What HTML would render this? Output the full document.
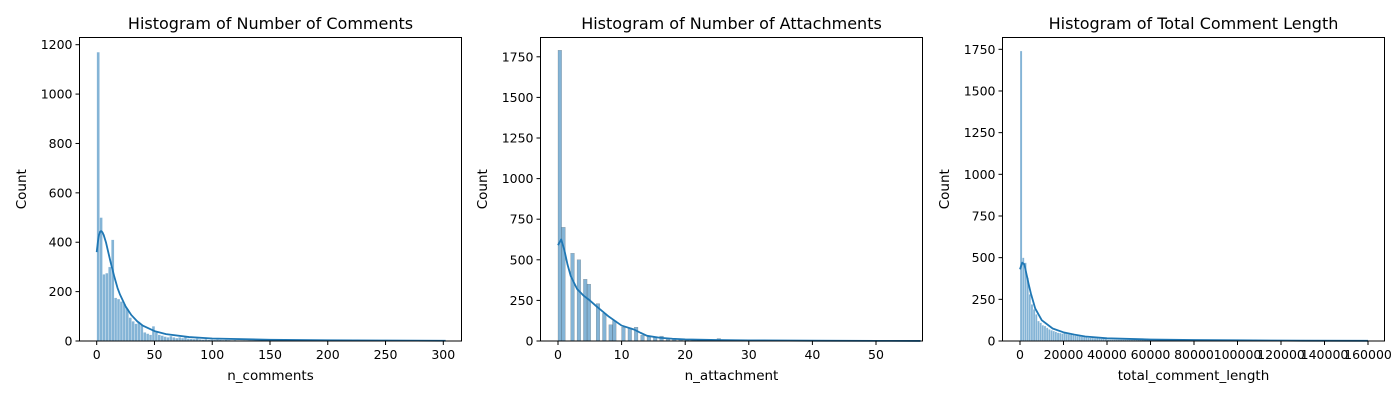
<!DOCTYPE html>
<html><head><meta charset="utf-8"><style>
body{margin:0;background:#fff;}
svg text{font-family:"DejaVu Sans","Liberation Sans",sans-serif;fill:#000;}
</style></head><body>
<svg id="fig" width="1400" height="400" xmlns="http://www.w3.org/2000/svg"></svg>
<script>
// Chart 1: n_comments (bin width 2.52)
const c1Counts = [1170,500,270,275,300,410,175,170,160,150,130,95,80,70,78,65,35,30,25,60,35,25,22,18,15,20,15,12,15,12,16,10,9,8,10,7,6,8,5,6,5,6,5,4,5,4,3,4,3,3,3,2,3,2,2,2,2,3,2,2,2,1,2,1,1,2,1,1,1,1,1,1,1,1,1,1,1,1,1,1,1,1,1,1,1,1,1,1,1,1,1,1,1,1,1,1,1,1,1,1,1,1,1,1,1,1,1,1,1,1,1,1,1,1,1,1,1,1,1,1];
const c1KdeX = [0,1,2,3,4,5,6,8,10,12,15,18,20,25,30,35,40,50,60,80,100,150,200,250,302];
const c1KdeY = [360,400,430,443,445,440,430,400,360,320,265,215,190,140,105,80,62,40,28,16,10,5,3,2,1];
// Chart 2: n_attachment (x, count)
const c2X = [0,0.57,2,3,4,4.57,6,7,8,8.57,10,11,12,13,14,15,16,17,18,19,20,21,22,24,25,27,30,33,36,40,45,50,56];
const c2Counts = [1790,700,540,500,380,350,230,170,100,125,85,80,85,35,25,25,30,10,10,8,10,8,6,5,15,4,3,3,2,2,2,1,1];
const c2KdeX = [0,0.5,1,1.5,2,3,4,5,6,8,10,12,13,14,16,18,20,25,30,40,50,57];
const c2KdeY = [590,625,560,470,400,320,280,250,215,150,95,70,50,32,20,14,10,6,4,2,1,0.5];
// Chart 3: total_comment_length (bin width 1000)
const c3Counts = [1740,500,470,380,280,220,190,160,120,110,95,90,80,70,65,60,55,50,48,45,55,42,40,38,35,32,30,28,26,24,22,20,19,18,17,16,15,14,13,12];
const c3Tail = 4;
const c3KdeX = [0,1000,2000,3000,4000,5000,7000,10000,15000,20000,25000,30000,40000,60000,80000,100000,130000,160000];
const c3KdeY = [430,470,460,400,340,285,195,125,75,52,38,27,16,9,6,4,2,1];

const yTicks1 = [0,200,400,600,800,1000,1200];
const yTicks23 = [0,250,500,750,1000,1250,1500,1750];
const xTicks1 = [0,50,100,150,200,250,300];
const xTicks2 = [0,10,20,30,40,50];
const xTicks3 = [0,20000,40000,60000,80000,100000,120000,140000,160000];

const NS="http://www.w3.org/2000/svg";
const fig=document.getElementById('fig');
function mk(t,a,p){const e=document.createElementNS(NS,t);for(const k in a)e.setAttribute(k,a[k]);(p||fig).appendChild(e);return e;}

function chart(o){
  const g=mk('g',{});
  
  
  const L=o.left,R=o.left+382,T=37.5,B=341;
  const xs=v=>o.x0+(v-o.v0)*o.kx;
  const ys=v=>B-v*o.ky;
  o.bars.forEach(b=>{
    const r=mk('rect',{x:xs(b[0]),y:ys(b[1]),width:Math.max(o.bw*o.kx,0.8),height:b[1]*o.ky,fill:'rgba(31,119,180,0.55)',stroke:o.edge,'stroke-width':0.35},g);
    
    
  });
  let d='';o.kx_.forEach((v,i)=>{d+=(i?'L':'M')+xs(v).toFixed(2)+','+ys(o.ky_[i]).toFixed(2);});
  const p=mk('path',{d:d,fill:'none',stroke:'#1f77b4','stroke-width':1.8,'stroke-linejoin':'round'},g);
  
  
  const f=mk('rect',{x:L,y:T,width:R-L,height:B-T,fill:'none',stroke:'#000','stroke-width':1},g);
  
  
  o.xt.forEach(v=>{
    const x=xs(v);
    mk('line',{x1:x,x2:x,y1:B,y2:B+4,stroke:'#000'},g);
    const t=mk('text',{x:x,y:B+18,'font-size':12.5,'text-anchor':'middle'},g);t.textContent=v;
    
    
  });
  o.yt.forEach(v=>{
    const y=ys(v);
    mk('line',{x1:L-4,x2:L,y1:y,y2:y,stroke:'#000'},g);
    const t=mk('text',{x:L-7,y:y+4.5,'font-size':12.5,'text-anchor':'end'},g);t.textContent=v;
    
    
  });
  const ti=mk('text',{x:(L+R)/2,y:29,'font-size':16,'text-anchor':'middle'},g);ti.textContent=o.title;
  
  
  const xl=mk('text',{x:(L+R)/2,y:380,'font-size':13.5,'text-anchor':'middle'},g);xl.textContent=o.xlabel;
  
  
  const yl=mk('text',{x:0,y:0,'font-size':13.5,'text-anchor':'middle',transform:`translate(${o.ylx},${(T+B)/2}) rotate(-90)`},g);yl.textContent='Count';
  
  
}
const b1=c1Counts.map((c,i)=>[i*2.52,c]);
chart({name:'chart-n-comments',left:79.5,x0:96.7,v0:0,kx:346.6/300,ky:296.3/1200,bars:b1,bw:2.52,edge:'rgba(255,255,255,0.8)',kx_:c1KdeX,ky_:c1KdeY,xt:xTicks1,yt:yTicks1,title:'Histogram of Number of Comments',xlabel:'n_comments',ylx:26});
const b2=c2X.map((x,i)=>[x,c2Counts[i]]);
chart({name:'chart-n-attachment',left:540.5,x0:558,v0:0,kx:318/50,ky:40.6/250,bars:b2,bw:0.57,edge:'rgba(60,60,60,0.5)',kx_:c2KdeX,ky_:c2KdeY,xt:xTicks2,yt:yTicks23,title:'Histogram of Number of Attachments',xlabel:'n_attachment',ylx:487});
const b3=c3Counts.map((c,i)=>[i*1000,c]);
for(let i=c3Counts.length;i<158;i++)b3.push([i*1000,c3Tail*(i<80?2:1)]);
chart({name:'chart-total-comment-length',left:1002.5,x0:1020,v0:0,kx:348/160000,ky:41.67/250,bars:b3,bw:1000,edge:'rgba(255,255,255,0.8)',kx_:c3KdeX,ky_:c3KdeY,xt:xTicks3,yt:yTicks23,title:'Histogram of Total Comment Length',xlabel:'total_comment_length',ylx:949});
</script>
</body></html>
